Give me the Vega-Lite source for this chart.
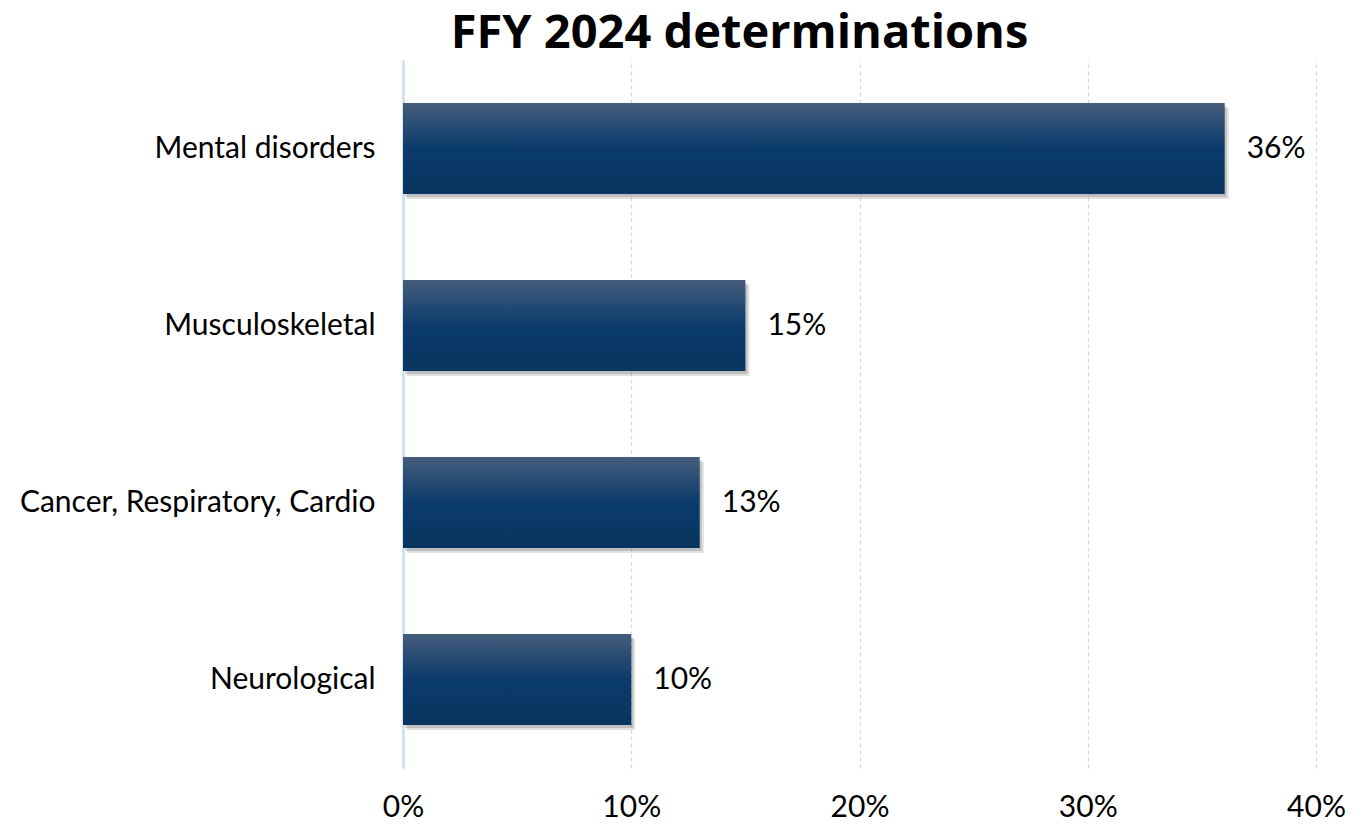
{
  "$schema": "https://vega.github.io/schema/vega-lite/v6.json",
  "autosize": {"type": "none"},
  "width": 913,
  "height": 708,
  "padding": {"left": 403, "top": 60, "right": 50, "bottom": 56},
  "background": "white",
  "config": {
    "view": {"stroke": null},
    "font": "Lato"
  },
  "title": {
    "text": "FFY 2024 determinations",
    "font": "Open Sans",
    "fontSize": 47,
    "fontWeight": "bold",
    "color": "#000000",
    "anchor": "middle",
    "dx": -120,
    "offset": 2
  },
  "data": {
    "values": [
      {"category": "Mental disorders", "share": 0.36},
      {"category": "Musculoskeletal", "share": 0.15},
      {"category": "Cancer, Respiratory, Cardio", "share": 0.13},
      {"category": "Neurological", "share": 0.10}
    ]
  },
  "encoding": {
    "y": {
      "field": "category",
      "type": "nominal",
      "sort": null,
      "scale": {"paddingInner": 0.486, "paddingOuter": 0.243},
      "axis": {
        "title": null,
        "ticks": false,
        "labelPadding": 28,
        "labelFontSize": 30,
        "labelLimit": 0,
        "labelColor": "#000000",
        "labelFont": "Lato",
        "domain": true,
        "domainColor": "#c9def2",
        "domainWidth": 2.5,
        "grid": false
      }
    },
    "x": {
      "field": "share",
      "type": "quantitative",
      "scale": {"domain": [0, 0.4], "nice": false},
      "axis": {
        "title": null,
        "format": ".0%",
        "values": [0, 0.1, 0.2, 0.3, 0.4],
        "ticks": false,
        "domain": false,
        "labelFlush": false,
        "labelPadding": 24,
        "labelFontSize": 30,
        "labelColor": "#000000",
        "labelFont": "Lato",
        "grid": true,
        "gridColor": "#d9d9d9",
        "gridDash": [4, 3],
        "gridWidth": 1.2
      }
    }
  },
  "layer": [
    {
      "mark": {"type": "bar", "color": "#000000", "opacity": 0.12, "xOffset": 4, "yOffset": 5},
      "encoding": {}
    },
    {
      "mark": {"type": "bar", "color": "#000000", "opacity": 0.15, "xOffset": 2, "yOffset": 3},
      "encoding": {}
    },
    {
      "mark": {
        "type": "bar",
        "color": {
          "gradient": "linear",
          "x1": 0, "y1": 0, "x2": 0, "y2": 1,
          "stops": [
            {"offset": 0, "color": "#465d7c"},
            {"offset": 0.5, "color": "#0b3b6c"},
            {"offset": 1, "color": "#07355f"}
          ]
        }
      },
      "encoding": {}
    },
    {
      "mark": {"type": "text", "align": "left", "baseline": "middle", "dx": 22, "fontSize": 30, "font": "Lato", "color": "#000000"},
      "encoding": {
        "text": {"field": "share", "type": "quantitative", "format": ".0%"}
      }
    }
  ]
}
